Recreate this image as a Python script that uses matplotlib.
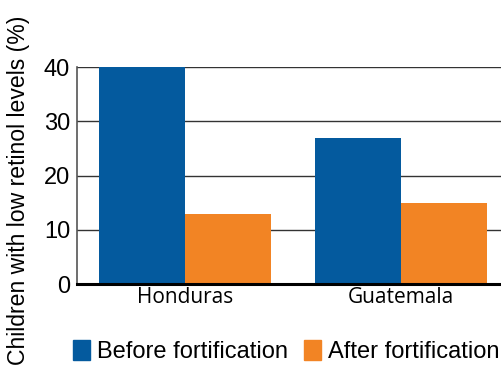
import matplotlib.pyplot as plt
from matplotlib.patches import Patch

countries = ["Honduras", "Guatemala"]
before = [40, 27]
after = [13, 15]
series_names = ["Before fortification", "After fortification"]
yticks = [0, 10, 20, 30, 40]

blue = "#045a9e"
orange = "#f28424"

fig = plt.figure(figsize=(5.01, 3.74), dpi=100)
ax = fig.add_axes([0.1537, 0.2406, 0.862, 0.580])

x = range(len(countries))
w = 0.4
ax.bar([i - w / 2 for i in x], before, width=w, color=blue, zorder=3)
ax.bar([i + w / 2 for i in x], after, width=w, color=orange, zorder=3)

ax.set_xlim(-0.5, 1.5)
ax.set_ylim(0, 40)
ax.set_yticks(yticks)
ax.set_xticks(list(x))
ax.set_xticklabels(countries, fontsize=15, family="Open Sans")
ax.tick_params(axis="both", length=0)
ax.tick_params(axis="y", labelsize=17, pad=5)
ax.tick_params(axis="x", pad=2)
for lab in ax.get_yticklabels():
    lab.set_family("Liberation Sans")
ax.yaxis.grid(True, color="#333333", linewidth=1, zorder=1)
ax.set_axisbelow(True)

ax.spines["top"].set_visible(False)
ax.spines["right"].set_visible(False)
ax.spines["left"].set_color("#555555")
ax.spines["left"].set_linewidth(1.2)
ax.spines["bottom"].set_color("black")
ax.spines["bottom"].set_linewidth(2.2)
ax.spines["bottom"].set_zorder(4)

fig.text(0.036, 0.49, "Children with low retinol levels (%)", rotation=90,
         ha="center", va="center", fontsize=16.6, family="Liberation Sans")

handles = [Patch(color=blue), Patch(color=orange)]
fig.legend(handles, series_names, loc="center left", bbox_to_anchor=(0.146, 0.059),
           ncol=2, frameon=False, prop={"family": "Liberation Sans", "size": 17},
           handlelength=0.72, handleheight=0.9, handletextpad=0.3, columnspacing=0.68,
           borderaxespad=0, borderpad=0)

fig.savefig("out.png", dpi=100)
